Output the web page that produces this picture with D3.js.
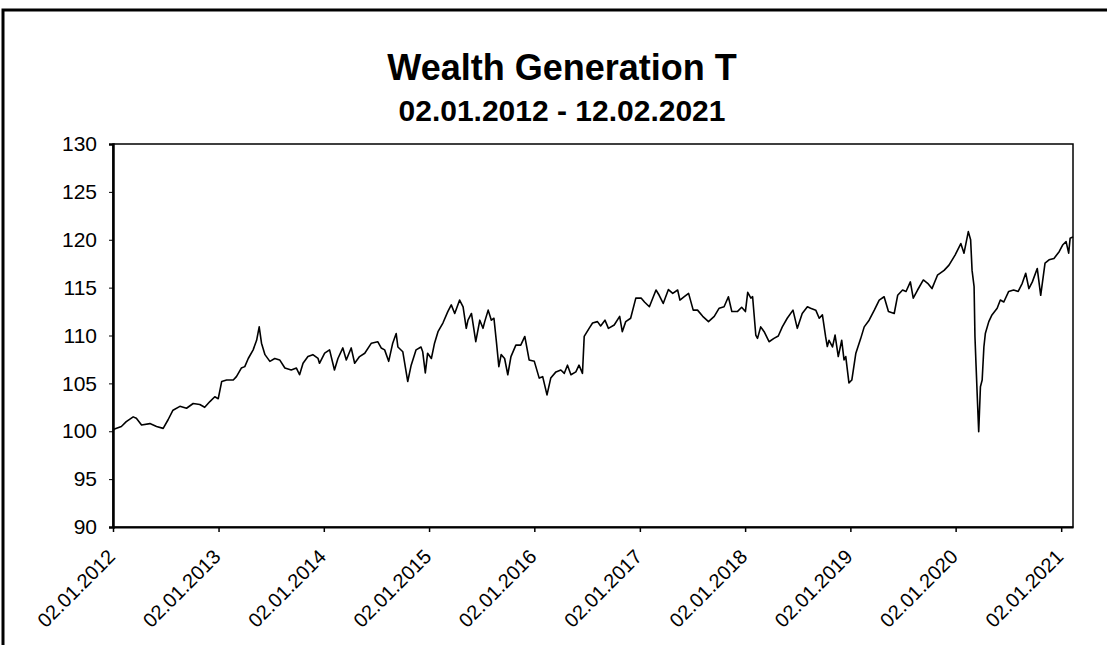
<!DOCTYPE html>
<html>
<head>
<meta charset="utf-8">
<script src="https://cdn.jsdelivr.net/npm/d3@7"></script>
<style>
  body { margin: 0; background: #fff; }
  text { font-family: "Liberation Sans", Arial, sans-serif; }
</style>
</head>
<body>
<div id="chart"></div>
<script>
var title = "Wealth Generation T";
var subtitle = "02.01.2012 - 12.02.2021";
var svg_width = 1107;
var svg_height = 645;

// y axis ticks
var yTicks = [90, 95, 100, 105, 110, 115, 120, 125, 130];
// x axis ticks (first trading day of each year)
var xTicks = ["2012-01-02", "2013-01-02", "2014-01-02", "2015-01-02", "2016-01-02",
  "2017-01-02", "2018-01-02", "2019-01-02", "2020-01-02", "2021-01-02"];

// series
var dates = [
  "2012-01-02","2012-01-05","2012-01-31","2012-02-17","2012-03-12","2012-03-23","2012-04-10","2012-05-09",
  "2012-06-01","2012-06-24","2012-07-11","2012-07-28","2012-08-21","2012-09-13","2012-10-06","2012-10-29",
  "2012-11-15","2012-12-03","2012-12-20","2013-01-01","2013-01-13","2013-01-30","2013-02-22","2013-03-05",
  "2013-03-22","2013-04-03","2013-04-15","2013-05-02","2013-05-14","2013-05-23","2013-05-31","2013-06-12",
  "2013-06-29","2013-07-16","2013-08-02","2013-08-20","2013-09-11","2013-09-29","2013-10-10","2013-10-22",
  "2013-11-08","2013-11-25","2013-12-13","2013-12-18","2014-01-05","2014-01-22","2014-02-08","2014-02-20",
  "2014-03-09","2014-03-21","2014-04-07","2014-04-19","2014-05-06","2014-05-24","2014-06-16","2014-07-08",
  "2014-07-20","2014-08-01","2014-08-15","2014-08-29","2014-09-10","2014-09-16","2014-10-03","2014-10-20",
  "2014-11-01","2014-11-18","2014-12-05","2014-12-11","2014-12-20","2014-12-28","2015-01-10","2015-01-21",
  "2015-02-02","2015-02-19","2015-03-08","2015-03-20","2015-04-01","2015-04-18","2015-04-30","2015-05-11",
  "2015-05-17","2015-05-29","2015-06-13","2015-06-27","2015-07-08","2015-07-14","2015-07-26","2015-08-06",
  "2015-08-15","2015-08-24","2015-09-01","2015-09-09","2015-09-21","2015-10-02","2015-10-13","2015-10-30",
  "2015-11-16","2015-11-30","2015-12-15","2016-01-02","2016-01-19","2016-01-31","2016-02-15","2016-02-28",
  "2016-03-17","2016-04-03","2016-04-15","2016-04-26","2016-05-08","2016-05-25","2016-06-05","2016-06-17",
  "2016-06-23","2016-07-10","2016-07-22","2016-08-08","2016-08-19","2016-09-03","2016-09-15","2016-10-05",
  "2016-10-24","2016-11-02","2016-11-14","2016-12-01","2016-12-19","2017-01-07","2017-01-18","2017-02-04",
  "2017-02-27","2017-03-10","2017-03-24","2017-04-11","2017-04-26","2017-05-13","2017-05-21","2017-06-05",
  "2017-06-20","2017-07-06","2017-07-21","2017-08-08","2017-08-28","2017-09-17","2017-10-04","2017-10-21",
  "2017-11-05","2017-11-17","2017-12-06","2017-12-21","2018-01-03","2018-01-11","2018-01-22","2018-01-28",
  "2018-02-08","2018-02-14","2018-02-25","2018-03-09","2018-03-26","2018-04-12","2018-04-27","2018-05-11",
  "2018-05-28","2018-06-17","2018-07-02","2018-07-19","2018-08-06","2018-08-17","2018-09-04","2018-09-16",
  "2018-09-27","2018-10-08","2018-10-14","2018-10-20","2018-11-01","2018-11-10","2018-11-21","2018-12-03",
  "2018-12-11","2018-12-17","2018-12-28","2019-01-07","2019-01-21","2019-02-07","2019-02-19","2019-03-08",
  "2019-03-26","2019-04-12","2019-04-29","2019-05-14","2019-06-03","2019-06-15","2019-07-02","2019-07-14",
  "2019-07-29","2019-08-08","2019-08-23","2019-09-12","2019-09-27","2019-10-12","2019-10-31","2019-11-23",
  "2019-12-10","2019-12-31","2020-01-20","2020-01-31","2020-02-15","2020-02-23","2020-02-28","2020-03-06",
  "2020-03-09","2020-03-13","2020-03-18","2020-03-22","2020-03-28","2020-04-03","2020-04-09","2020-04-14",
  "2020-04-26","2020-05-07","2020-05-25","2020-06-05","2020-06-17","2020-07-04","2020-07-21","2020-08-06",
  "2020-08-20","2020-09-01","2020-09-12","2020-09-24","2020-10-11","2020-10-23","2020-11-07","2020-11-21",
  "2020-12-08","2020-12-26","2021-01-07","2021-01-19","2021-01-28","2021-02-02","2021-02-12"
];
var values = [
  100.0,100.2,100.5,101.0,101.5,101.35,100.65,100.8,
  100.5,100.3,101.2,102.2,102.6,102.4,102.9,102.8,
  102.5,103.1,103.6,103.4,105.2,105.35,105.35,105.7,
  106.6,106.75,107.6,108.5,109.5,110.9,109.2,108.0,
  107.3,107.6,107.45,106.6,106.4,106.6,105.9,107.1,
  107.8,108.0,107.6,107.1,108.15,108.5,106.4,107.6,
  108.7,107.45,108.7,107.1,107.8,108.15,109.2,109.35,
  108.7,108.5,107.3,109.2,110.2,108.8,108.3,105.2,
  106.9,108.5,108.8,108.3,106.1,108.15,107.6,109.2,
  110.4,111.3,112.5,113.2,112.3,113.7,113.0,110.75,
  111.6,112.3,109.35,111.6,110.75,111.45,112.65,111.6,
  111.8,109.2,106.75,108.0,107.6,105.9,107.8,109.0,
  109.0,109.9,107.45,107.3,105.55,105.7,103.8,105.55,
  106.2,106.4,106.05,106.9,105.9,106.2,106.9,106.05,
  109.9,110.75,111.3,111.45,111.0,111.6,110.75,111.1,
  112.0,110.4,111.45,111.8,113.9,113.9,113.5,113.0,
  114.75,114.2,113.35,114.8,114.4,114.75,113.7,114.05,
  114.4,112.65,112.65,112.0,111.45,112.0,112.85,113.0,
  114.05,112.5,112.5,112.95,112.5,114.5,113.9,114.05,
  110.05,109.7,110.9,110.4,109.35,109.7,109.95,110.9,
  111.8,112.65,110.75,112.3,113.0,112.85,112.65,111.8,
  112.15,109.9,108.85,109.5,108.8,110.05,107.8,109.5,
  107.45,107.8,105.05,105.35,108.15,109.7,110.9,111.6,
  112.65,113.7,114.05,112.5,112.3,114.2,114.75,114.6,
  115.6,113.9,114.75,115.8,115.45,114.9,116.3,116.8,
  117.35,118.4,119.6,118.6,120.85,120.0,116.8,115.1,
  109.9,106.75,102.9,99.95,104.65,105.35,108.8,110.2,
  111.45,112.15,112.85,113.7,113.5,114.6,114.75,114.6,
  115.45,116.5,114.9,115.6,117.0,114.2,117.55,117.9,
  118.05,118.75,119.45,119.8,118.6,120.15,120.3
];

var parse = d3.timeParse("%Y-%m-%d");
var fmt = d3.timeFormat("%d.%m.%Y");
var data = dates.map(function (d, i) { return { date: parse(d), value: values[i] }; });

var margin = { left: 113, right: 1073, top: 144, bottom: 527 };

var svg = d3.select("#chart")
    .append("svg")
    .attr("width", svg_width)
    .attr("height", svg_height)
    .style("background-color", "#fff");

// outer chart frame (top and left edges visible)
svg.append("path")
    .attr("d", "M3," + (svg_height + 5) + " V10 H" + (svg_width + 5))
    .attr("fill", "none")
    .attr("stroke", "#000")
    .attr("stroke-width", 3);

var x = d3.scaleTime()
    .domain([parse("2012-01-02"), parse("2021-02-12")])
    .range([margin.left, margin.right]);
var y = d3.scaleLinear()
    .domain([90, 130])
    .range([margin.bottom, margin.top]);

svg.append("text")
    .attr("x", 562)
    .attr("y", 80)
    .attr("text-anchor", "middle")
    .style("font-size", "36px")
    .style("font-weight", "bold")
    .text(title);

svg.append("text")
    .attr("x", 562)
    .attr("y", 121)
    .attr("text-anchor", "middle")
    .style("font-size", "30px")
    .style("font-weight", "bold")
    .text(subtitle);

// plot area border
svg.append("rect")
    .attr("x", margin.left)
    .attr("y", margin.top)
    .attr("width", margin.right - margin.left)
    .attr("height", margin.bottom - margin.top)
    .attr("fill", "none")
    .attr("stroke", "#000")
    .attr("stroke-width", 1.5);

var yAxis = svg.append("g")
    .attr("transform", "translate(" + margin.left + ",0)")
    .call(d3.axisLeft(y).tickValues(yTicks).tickSize(4).tickPadding(12));
yAxis.select(".domain").attr("stroke-width", 2.5);
yAxis.selectAll("text").style("font-size", "21px").attr("fill", "#000");

var xAxis = svg.append("g")
    .attr("transform", "translate(0," + margin.bottom + ")")
    .call(d3.axisBottom(x).tickValues(xTicks.map(parse)).tickFormat(fmt).tickSize(5).tickSizeOuter(0));
xAxis.select(".domain").attr("stroke-width", 2);
xAxis.selectAll("line").attr("stroke-width", 1.5);
xAxis.selectAll("text")
    .style("font-size", "20px")
    .attr("fill", "#000")
    .attr("text-anchor", "end")
    .attr("x", 0)
    .attr("y", 0)
    .attr("dy", "0.35em")
    .attr("transform", "translate(-2,26) rotate(-45)");

var line = d3.line()
    .x(function (d) { return x(d.date); })
    .y(function (d) { return y(d.value); });

svg.append("path")
    .datum(data)
    .attr("d", line)
    .attr("fill", "none")
    .attr("stroke", "#000")
    .attr("stroke-width", 1.6)
    .attr("stroke-linejoin", "round");
</script>
</body>
</html>
